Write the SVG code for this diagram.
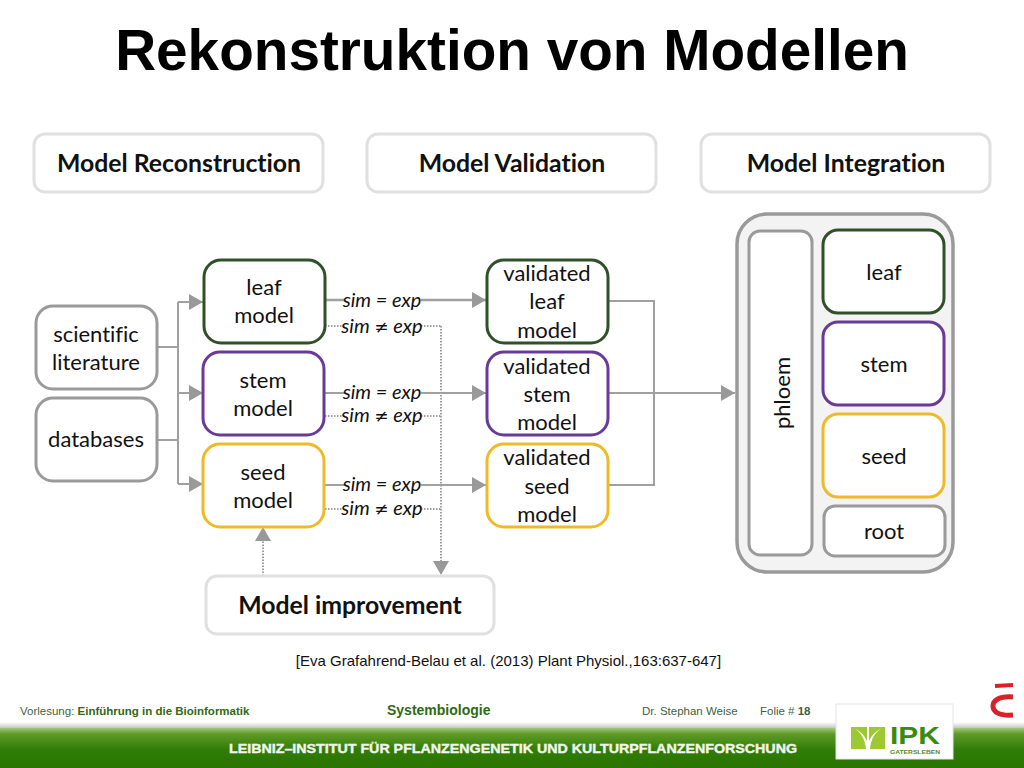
<svg xmlns="http://www.w3.org/2000/svg" width="1024" height="768" viewBox="0 0 1024 768">
<defs>
<linearGradient id="band" x1="0" y1="0" x2="0" y2="1"><stop offset="0" stop-color="#a4c878"/><stop offset="0.15" stop-color="#5f9a28"/><stop offset="0.55" stop-color="#2f7d06"/><stop offset="1" stop-color="#2a7400"/></linearGradient>
<linearGradient id="shade" x1="0" y1="0" x2="0" y2="1"><stop offset="0" stop-color="#ffffff"/><stop offset="1" stop-color="#c4c6c4"/></linearGradient>
<marker id="ah" markerUnits="userSpaceOnUse" markerWidth="14" markerHeight="16" refX="14" refY="8" orient="auto"><path d="M0 0L14 8L0 16Z" fill="#999"/></marker>
</defs>
<style>
.t,.h,.s{font-family:"Lato","Open Sans",sans-serif;text-anchor:middle;font-variant-ligatures:none}
.t{fill:#111;font-size:22px}
.h{fill:#111;font-size:24.8px;font-weight:700}
.s{fill:#111;font-size:20px;font-style:italic}
.ne{font-family:"DejaVu Sans",sans-serif;font-size:17px}
.f{font-family:"Liberation Sans",Arial,sans-serif;font-size:11.5px;fill:#3f5f3f}
.n{fill:#fff;stroke-width:3px}
.hd{fill:#fff;stroke:#e0e0e0;stroke-width:3px}
.g{stroke:#9a9a9a}.dg{stroke:#2f5028}.p{stroke:#6a3a98}.y{stroke:#eeba2a}
.c{fill:none;stroke:#a0a0a0;stroke-width:2px}
.d{fill:none;stroke:#a0a0a0;stroke-width:2px;stroke-dasharray:1.5 1.5}
</style>
<rect width="1024" height="768" fill="#fff"/>
<text id="title" x="512" y="70" font-family="Liberation Sans, Arial, sans-serif" font-size="56.7" font-weight="700" text-anchor="middle" fill="#000">Rekonstruktion von Modellen</text>

<g id="connectors">
<path class="c" d="M158 347H178M158 440H178M178 302V484"/>
<path class="c" d="M178 302H203" marker-end="url(#ah)"/>
<path class="c" d="M178 393H203" marker-end="url(#ah)"/>
<path class="c" d="M178 484H203" marker-end="url(#ah)"/>
<path class="c" d="M325 300H345M421 300H486" marker-end="url(#ah)" style="stroke-width:2.5px"/>
<path class="c" d="M325 393H345M421 393H486" marker-end="url(#ah)"/>
<path class="c" d="M325 485H345M421 485H486" marker-end="url(#ah)"/>
<path class="d" d="M325 326H345M421 326H441M325 416H345M421 416H441M325 509H345M421 509H441"/>
<path class="d" d="M441 326V575" marker-end="url(#ah)"/>
<path class="d" d="M263 576V527" marker-end="url(#ah)"/>
<path class="c" d="M609 301H654V485H608"/>
<path class="c" d="M609 393H735" marker-end="url(#ah)"/>
</g>

<g id="head-reconstruction"><rect class="hd" x="34" y="134" width="289" height="58" rx="11"/><text class="h" x="179" y="172">Model Reconstruction</text></g>
<g id="head-validation"><rect class="hd" x="367" y="134" width="289" height="58" rx="11"/><text class="h" x="512" y="172">Model Validation</text></g>
<g id="head-integration"><rect class="hd" x="701" y="134" width="289" height="58" rx="11"/><text class="h" x="846" y="172">Model Integration</text></g>

<g id="literature"><rect class="n g" x="36" y="306" width="121" height="83" rx="17"/><text class="t" x="96" y="342">scientific</text><text class="t" x="96" y="370">literature</text></g>
<g id="databases"><rect class="n g" x="36" y="398" width="121" height="83" rx="17"/><text class="t" x="96" y="447">databases</text></g>

<g id="leaf-model"><rect class="n dg" x="204" y="260" width="121" height="83" rx="17"/><text class="t" x="264" y="295">leaf</text><text class="t" x="264" y="323">model</text></g>
<g id="stem-model"><rect class="n p" x="203" y="352" width="121" height="83" rx="17"/><text class="t" x="263" y="388">stem</text><text class="t" x="263" y="416">model</text></g>
<g id="seed-model"><rect class="n y" x="203" y="444" width="121" height="83" rx="17"/><text class="t" x="263" y="480">seed</text><text class="t" x="263" y="508">model</text></g>

<g id="sim-labels">
<text class="s" x="382" y="307">sim = exp</text><text class="s" x="382" y="333">sim <tspan class="ne">≠</tspan> exp</text>
<text class="s" x="382" y="399">sim = exp</text><text class="s" x="382" y="422">sim <tspan class="ne">≠</tspan> exp</text>
<text class="s" x="382" y="491">sim = exp</text><text class="s" x="382" y="515">sim <tspan class="ne">≠</tspan> exp</text>
</g>

<g id="validated-leaf"><rect class="n dg" x="487" y="260" width="121" height="83" rx="17"/><text class="t" x="547" y="281">validated</text><text class="t" x="547" y="309">leaf</text><text class="t" x="547" y="338">model</text></g>
<g id="validated-stem"><rect class="n p" x="487" y="352" width="121" height="83" rx="17"/><text class="t" x="547" y="374">validated</text><text class="t" x="547" y="402">stem</text><text class="t" x="547" y="430">model</text></g>
<g id="validated-seed"><rect class="n y" x="487" y="444" width="121" height="83" rx="17"/><text class="t" x="547" y="465">validated</text><text class="t" x="547" y="494">seed</text><text class="t" x="547" y="522">model</text></g>

<g id="integration"><rect class="g" x="737" y="214" width="216" height="358" rx="30" fill="#f3f3f3" stroke-width="3.5"/></g>
<g id="phloem"><rect class="n g" x="749" y="231" width="63" height="324" rx="11"/><text class="t" transform="translate(790 393) rotate(-90)">phloem</text></g>
<g id="leaf"><rect class="n dg" x="823" y="230" width="121" height="83" rx="15"/><text class="t" x="884" y="280">leaf</text></g>
<g id="stem"><rect class="n p" x="823" y="322" width="121" height="83" rx="15"/><text class="t" x="884" y="372">stem</text></g>
<g id="seed"><rect class="n y" x="823" y="414" width="121" height="83" rx="15"/><text class="t" x="884" y="464">seed</text></g>
<g id="root"><rect class="n g" x="824" y="506" width="121" height="50" rx="11"/><text class="t" x="884" y="539">root</text></g>

<g id="model-improvement"><rect class="hd" x="206" y="576" width="288" height="58" rx="11"/><text class="h" x="350" y="614">Model improvement</text></g>

<text id="citation" x="508.5" y="666" font-family="Liberation Sans, Arial, sans-serif" font-size="15" text-anchor="middle" fill="#111">[Eva Grafahrend-Belau et al. (2013) Plant Physiol.,163:637-647]</text>

<g id="footer">
<rect x="0" y="722" width="1024" height="6" fill="url(#shade)"/>
<rect x="0" y="728" width="1024" height="40" fill="url(#band)"/>
<text class="f" x="20" y="715">Vorlesung: <tspan font-weight="700" fill="#2f6a12">Einführung in die Bioinformatik</tspan></text>
<text x="387" y="715" font-family="Liberation Sans, Arial, sans-serif" font-size="14" font-weight="700" fill="#2f6a12">Systembiologie</text>
<text class="f" x="642" y="715">Dr. Stephan Weise</text>
<text class="f" x="760" y="715">Folie # <tspan font-weight="700">18</tspan></text>
<text x="513" y="753" font-family="Liberation Sans, Arial, sans-serif" font-size="13" font-weight="700" fill="#f2f6ee" stroke="#f2f6ee" stroke-width="0.4" text-anchor="middle" textLength="568" lengthAdjust="spacingAndGlyphs">LEIBNIZ–INSTITUT FÜR PFLANZENGENETIK UND KULTURPFLANZENFORSCHUNG</text>
<rect x="836" y="704" width="117" height="55" fill="#fff" stroke="#e4e4e4"/>
<path d="M851 727H885V749H851Z" fill="#9cc832"/>
<path d="M866 749C865 738 860 731 853 728C861 731 866 737 867 742L867 712L869 712L869 742C870 737 875 731 883 728C876 731 871 738 870 749Z" fill="#fff"/>
<text x="890" y="743.5" font-family="Liberation Sans, Arial, sans-serif" font-size="24" font-weight="700" fill="#3a8a0c" textLength="50" lengthAdjust="spacingAndGlyphs">IPK</text>
<text x="890" y="753.5" font-family="Liberation Sans, Arial, sans-serif" font-size="5" font-weight="700" fill="#5a8a30" textLength="50" lengthAdjust="spacingAndGlyphs">GATERSLEBEN</text>
<path d="M995 686L1013 685" fill="none" stroke="#d8222a" stroke-width="4"/>
<path d="M1013 697C998 696 993 701 993 706C993 712 999 716 1013 715" fill="none" stroke="#d8222a" stroke-width="5"/>
</g>
</svg>
